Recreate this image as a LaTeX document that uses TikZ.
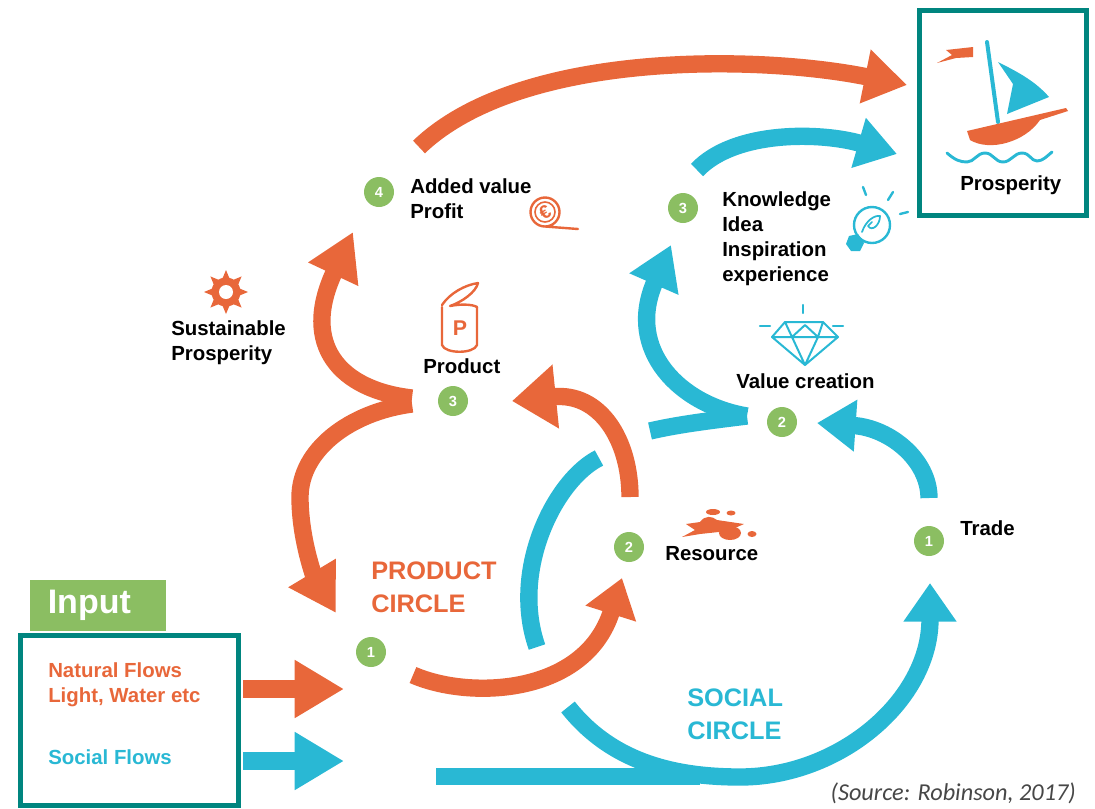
\documentclass[tikz,border=0pt]{standalone}
\usepackage{fontspec}
\setmainfont{Liberation Sans}
\newfontfamily\sourcefont{Carlito}
\usetikzlibrary{arrows.meta}
\definecolor{flowred}{RGB}{232,103,58}
\definecolor{flowblue}{RGB}{41,184,212}
\definecolor{stepgreen}{RGB}{139,190,98}
\definecolor{frameteal}{RGB}{0,133,127}
\tikzset{
  stepdot/.style={circle,fill=stepgreen,text=white,minimum size=22.5pt,inner sep=0pt,font=\bfseries\fontsize{11}{11}\selectfont},
  lbl/.style={anchor=north west,inner sep=0pt,align=left,font=\bfseries\fontsize{15.3}{18.9}\selectfont},
  circlelbl/.style={anchor=north west,inner sep=0pt,align=left,font=\bfseries\fontsize{19}{24.6}\selectfont},
  framebox/.style={draw=frameteal,line width=3.75pt,inner sep=0pt},
  redflow/.style 2 args={draw=flowred,line width=13pt,-{Triangle[length=#1pt,width=#2pt,fill=flowred]}},
  blueflow/.style 2 args={draw=flowblue,line width=13pt,-{Triangle[length=#1pt,width=#2pt,fill=flowblue]}},
  bluetail/.style={draw=flowblue,line width=13pt},
  iconred/.style={draw=flowred,line width=1.8pt,line join=round,line cap=round},
  iconblue/.style={draw=flowblue,line width=1.8pt,line join=round,line cap=round},
}
\begin{document}
\begin{tikzpicture}[x=0.75pt,y=0.75pt,yscale=-1,xscale=1]
\useasboundingbox (0,0) rectangle (1095,808);

% Frames
\node (inputtag) [fill=stepgreen,minimum width=102pt,minimum height=38pt,inner sep=0pt,text=white,font=\bfseries\fontsize{25.5}{25.5}\selectfont] at (98,605.5) {\hspace*{-13pt}Input};
\node (inputbox) [framebox,minimum width=163.5pt,minimum height=127.5pt] at (129.5,720.5) {};
\node (goalbox) [framebox,minimum width=125pt,minimum height=153.5pt] at (1003,113) {};

% Step Node
\node (adddot) [stepdot] at (379,192) {4};
\node (proddot) [stepdot] at (453,401) {3};
\node (resdot) [stepdot] at (629,547) {2};
\node (startdot) [stepdot] at (371,652) {1};
\node (knowdot) [stepdot] at (683,208) {3};
\node (valuedot) [stepdot] at (782,422) {2};
\node (tradedot) [stepdot] at (929,541) {1};

% Text Node
\node (addtext) [lbl] at (410,178) {Added value\\Profit};
\node (knowtext) [lbl] at (722,191) {Knowledge\\Idea\\Inspiration\\experience};
\node (sustext) [lbl] at (171,320) {Sustainable\\Prosperity};
\node (prodtext) [lbl] at (423,358) {Product};
\node (valuetext) [lbl] at (736,373) {Value creation};
\node (restext) [lbl] at (665,546) {Resource};
\node (tradetext) [lbl] at (960,520) {Trade};
\node (goaltext) [lbl] at (960,175) {Prosperity};
\node (prodcircle) [circlelbl,text=flowred] at (371,562) {PRODUCT\\CIRCLE};
\node (soccircle) [circlelbl,text=flowblue] at (687,689) {SOCIAL\\CIRCLE};
\node (natural) [lbl,text=flowred] at (48,662) {Natural Flows\\Light, Water etc};
\node (social) [lbl,text=flowblue] at (48,749) {Social Flows};
\node (source) [anchor=east,inner sep=0pt,text=black!72,font=\sourcefont\itshape\fontsize{18.2}{18.2}\selectfont] at (1076,793) {(Source: Robinson, 2017)};

% Connection ends
\coordinate (addout) at (419,147);
\coordinate (goalin) at (907,85);
\coordinate (knowout) at (697,170);
\coordinate (goalinb) at (897,154);
\coordinate (prodleft) at (412,398);
\coordinate (prodleftb) at (412,404);
\coordinate (addin) at (353,232);
\coordinate (startin) at (336,613);
\coordinate (resup) at (630,497);
\coordinate (prodin) at (512,401);
\coordinate (startout) at (413,675);
\coordinate (resin) at (622,578);
\coordinate (naturalout) at (243,689);
\coordinate (naturalin) at (344,689);
\coordinate (socialout) at (243,761);
\coordinate (socialin) at (344,761);
\coordinate (longout) at (436,776.5);
\coordinate (longjoin) at (700,776.5);
\coordinate (socstart) at (568,707);
\coordinate (tradein) at (930,583);
\coordinate (arcend) at (537,647);
\coordinate (arcstart) at (599,458);
\coordinate (valueleft) at (650,431);
\coordinate (valuein) at (747,416);
\coordinate (knowin) at (671,245);
\coordinate (tradeup) at (929,498);
\coordinate (valueright) at (817,423);

% Connection
\draw [redflow={32}{39}] (addout) .. controls (520,50) and (760,55) .. (goalin);
\draw [blueflow={30}{37}] (knowout) .. controls (735,130) and (821,132) .. (goalinb);
\draw [redflow={35}{39}] (prodleft) .. controls (340,390) and (300,345) .. (addin);
\draw [redflow={35}{39}] (prodleftb) .. controls (350,412) and (300,450) .. (300,497) .. controls (300,540) and (315,578) .. (startin);
\draw [redflow={33}{46}] (resup) .. controls (630,440) and (600,392) .. (prodin);
\draw [redflow={28}{38}] (startout) .. controls (470,700) and (585,695) .. (resin);
\draw [redflow={37}{41}] (naturalout) -- (naturalin);
\draw [blueflow={37}{41}] (socialout) -- (socialin);
\draw [bluetail] (longout) -- (longjoin);
\draw [blueflow={29}{38}] (socstart) .. controls (610,760) and (670,777) .. (740,777) .. controls (840,777) and (930,700) .. (tradein);
\draw [bluetail] (arcstart) .. controls (555,480) and (510,570) .. (arcend);
\draw [bluetail] (valueleft) .. controls (680,424) and (715,420) .. (valuein);
\draw [blueflow={32}{38}] (valuein) .. controls (680,405) and (625,350) .. (knowin);
\draw [blueflow={29}{37}] (tradeup) .. controls (929,460) and (890,428) .. (valueright);

% Boat
\fill [flowred] (946,50) -- (973,47) -- (973,57) -- (956,58) -- (937,63) -- (952,55) -- cycle;
\draw [iconblue,line width=3pt] (987,42) -- (998,122);
\fill [flowblue] (998,62) .. controls (1020,73) and (1036,82) .. (1049,97) -- (1007,114) -- (1013,84) -- cycle;
\fill [flowred] (967,131) -- (1066,108) -- (1068,111) -- (1040,120) .. controls (1025,142) and (990,152) .. (970,140) -- cycle;
\draw [iconblue,line width=2.2pt] (947,153) .. controls (955,160) and (960,162) .. (967,162) .. controls (974,162) and (977,153) .. (985,153) .. controls (993,153) and (995,162) .. (1003,162) .. controls (1011,162) and (1014,153) .. (1022,153) .. controls (1030,153) and (1031,161) .. (1037,161) .. controls (1043,161) and (1047,156) .. (1052,152);

% Flower
\foreach \a in {0,45,...,315}
  \fill [flowred,rotate around={\a:(226,292)}] (221,282) -- (226,270) -- (231,282) -- cycle;
\fill [flowred] (226,292) circle [radius=14.5];
\fill [white] (226,292) circle [radius=7];

% Can
\draw [iconred] (442,307) -- (442,345) .. controls (445,354) and (474,354) .. (477,345) -- (477,307);
\draw [iconred] (442,305) .. controls (450,293) and (465,285) .. (478,283) .. controls (476,292) and (462,302) .. (450,306) .. controls (460,304) and (472,304) .. (477,307);
\node (canletter) [text=flowred,inner sep=0pt,font=\bfseries\fontsize{16}{16}\selectfont] at (460,328) {P};

% Coin
\draw [iconred] (578,229) -- (545,226.5) arc [start angle=90,end angle=450,radius=14.5];
\draw [iconred,line width=1.2pt] (545,212) circle [radius=10];
\node (cointext) [text=flowred,inner sep=0pt,rotate=30,font=\bfseries\fontsize{14}{14}\selectfont] at (545,212) {€};

% Gem
\draw [iconblue,line width=1.5pt] (785,322) -- (823,322) -- (838,337) -- (805,365) -- (772,337) -- cycle (772,337) -- (838,337) (792,337) -- (805,365) -- (818,337) -- (805,325) -- cycle (785,322) -- (792,337) (823,322) -- (818,337);
\draw [iconblue] (803,305) -- (803,313) (760,326) -- (770,326) (833,326) -- (843,326);

% Bulb
\draw [iconblue] (872,225) circle [radius=18];
\draw [iconblue,line width=1.3pt] (862,232) .. controls (866,220) and (875,215) .. (880,216) .. controls (880,225) and (872,232) .. (868,226) -- (872,222);
\fill [flowblue] (849,236) -- (858,234) -- (864,243) -- (860,251) -- (851,251) -- (846,244) -- cycle;
\draw [iconblue] (863,187) -- (866,195) (893,192) -- (888,200) (908,212) -- (900,214);

% Spill
\fill [flowred] (682,537) -- (695,530) -- (686,524) -- (700,522) .. controls (705,515) and (712,516) .. (717,520) -- (744,524) -- (728,531) -- (700,534) -- cycle;
\fill [flowred] (730,533) ellipse [x radius=11,y radius=7];
\fill [flowred] (713,512) ellipse [x radius=7,y radius=3];
\fill [flowred] (731,513) ellipse [x radius=4.5,y radius=2.5];
\fill [flowred] (752,534) ellipse [x radius=4.5,y radius=3];

\end{tikzpicture}
\end{document}
